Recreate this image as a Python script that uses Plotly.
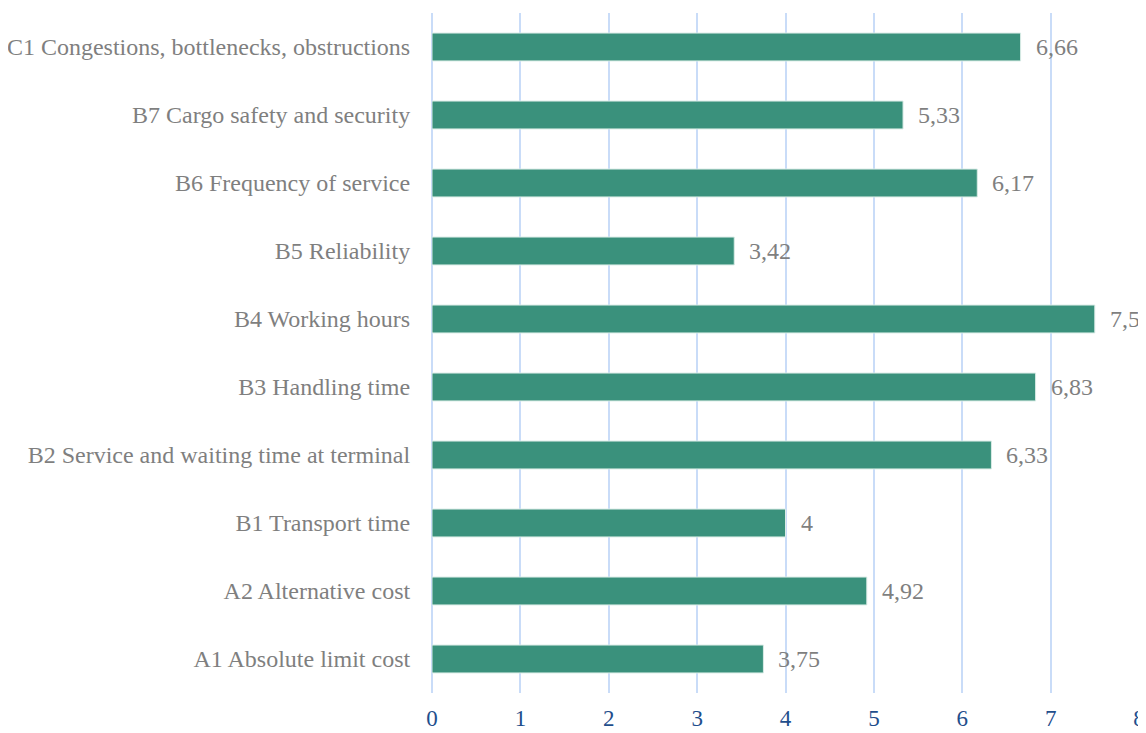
import plotly.graph_objects as go

categories = [
    "A1 Absolute limit cost",
    "A2 Alternative cost",
    "B1 Transport time",
    "B2 Service and waiting time at terminal",
    "B3 Handling time",
    "B4 Working hours",
    "B5 Reliability",
    "B6 Frequency of service",
    "B7 Cargo safety and security",
    "C1 Congestions, bottlenecks, obstructions",
]
values = [3.75, 4.92, 4, 6.33, 6.83, 7.5, 3.42, 6.17, 5.33, 6.66]
value_labels = ["3,75", "4,92", "4", "6,33", "6,83", "7,5", "3,42", "6,17", "5,33", "6,66"]
tick_vals = [0, 1, 2, 3, 4, 5, 6, 7, 8]

FONT = "Liberation Serif, Times New Roman, serif"

fig = go.Figure()
fig.add_trace(go.Bar(
    y=categories, x=values, orientation="h",
    marker=dict(color="#3a917c", line=dict(color="#d9ece6", width=1)),
    hoverinfo="skip",
))

for c, v, t in zip(categories, values, value_labels):
    fig.add_annotation(x=v, y=c, text=t, showarrow=False, xanchor="left",
                       xshift=13, font=dict(family=FONT, size=24, color="#7f7f7f"))

fig.update_layout(
    width=1138, height=725,
    margin=dict(l=424, r=7, t=5, b=40),
    paper_bgcolor="white", plot_bgcolor="white",
    bargap=0.59,
    showlegend=False,
    font=dict(family=FONT),
)
fig.update_xaxes(
    range=[0, 8], tickvals=tick_vals, automargin=False,
    showgrid=True, gridcolor="#c9dcf8", gridwidth=1.5,
    zeroline=True, zerolinecolor="#c9dcf8", zerolinewidth=1.5,
    showline=False,
    tickfont=dict(family=FONT, size=23, color="#1f4e8c"),
    ticks="outside", ticklen=4, tickcolor="rgba(0,0,0,0)",
)
fig.update_yaxes(
    showgrid=False, zeroline=False, showline=False, automargin=False,
    tickfont=dict(family=FONT, size=24, color="#7f7f7f"),
    ticks="outside", ticklen=16, tickcolor="rgba(0,0,0,0)",
)

fig.write_html("out.html")
